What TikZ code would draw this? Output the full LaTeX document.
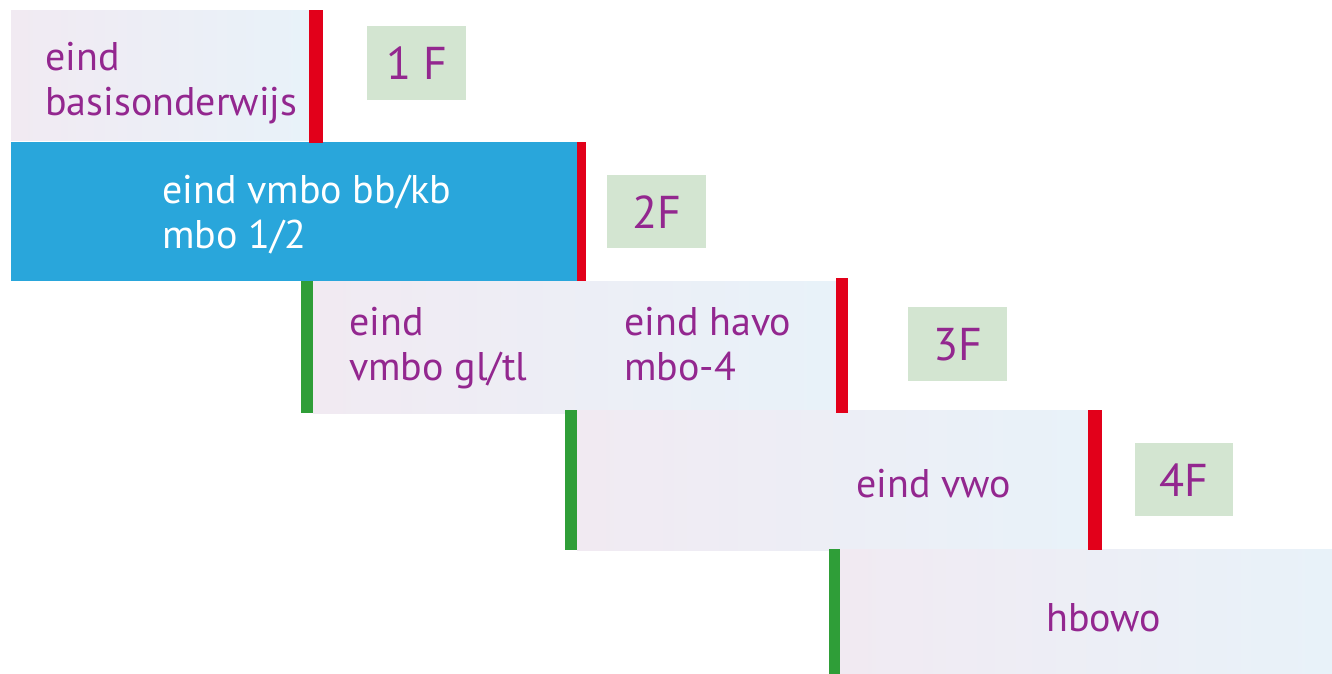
\documentclass[tikz,border=0pt]{standalone}
\usepackage{fontspec}
\setmainfont{PT Sans}
\usepackage{tikz}
\usetikzlibrary{positioning}
\definecolor{levelblue}{HTML}{29A6DB}
\definecolor{levelred}{HTML}{E2001A}
\definecolor{levelgreen}{HTML}{2F9E38}
\definecolor{levelpurple}{HTML}{93278F}
\definecolor{labelgreen}{HTML}{D3E5D1}
\definecolor{paleleft}{HTML}{F1EAF2}
\definecolor{paleright}{HTML}{E8F2F9}

\tikzset{
    levelbox/.style={anchor=north west, inner sep=0, draw=none,
        left color=paleleft, right color=paleright},
    bluebox/.style={anchor=north west, inner sep=0, fill=levelblue},
    leveltext/.style={anchor=north west, inner sep=0, align=left,
        text=levelpurple, font=\fontsize{40}{45}\selectfont},
    reflabel/.style={anchor=north west, inner sep=0, fill=labelgreen,
        text=levelpurple, font=\fontsize{46}{46}\selectfont},
}

\begin{document}
\begin{tikzpicture}[x=1pt, y=-1pt]

\useasboundingbox (0,0) rectangle (1332,674);

% boxes per level
\node[levelbox, minimum width=298, minimum height=130] (basis) at (11,10) {};
\node[bluebox, minimum width=567, minimum height=139] (vmbobb) at (11,142) {};
\node[levelbox, minimum width=523, minimum height=132] (havo) at (313,281) {};
\node[levelbox, minimum width=511, minimum height=140] (vwo) at (577,410) {};
\node[levelbox, minimum width=492, minimum height=125] (hbo) at (840,549) {};

% red and green bars
\fill[levelred] (309,10) rectangle (323,143);
\fill[levelred] (577,142) rectangle (586,281);
\fill[levelred] (836,278) rectangle (848,413);
\fill[levelred] (1088,410) rectangle (1102,550);
\fill[levelgreen] (301,281) rectangle (313,413);
\fill[levelgreen] (565,410) rectangle (577,550);
\fill[levelgreen] (829,549) rectangle (840,674);

% texts
\node[leveltext] (tbasis) at (45,42) {eind\\basisonderwijs};
\node[leveltext, text=white] (tvmbobb) at (162,175) {eind vmbo bb/kb\\mbo 1/2};
\node[leveltext] (tvmbogl) at (349,307) {eind\\vmbo gl/tl};
\node[leveltext] (thavo) at (624,307) {eind havo\\mbo-4};
\node[leveltext, anchor=west] (tvwo) at (856,484) {eind vwo};
\node[leveltext, anchor=west] (thbo) at (1046,618) {hbowo};

% reference levels
\node[reflabel, minimum width=99, minimum height=74] (f1) at (367,26) {1 F};
\node[reflabel, minimum width=99, minimum height=73] (f2) at (607,175) {2F};
\node[reflabel, minimum width=99, minimum height=74] (f3) at (908,307) {3F};
\node[reflabel, minimum width=98, minimum height=73] (f4) at (1135,443) {4F};

\end{tikzpicture}
\end{document}
